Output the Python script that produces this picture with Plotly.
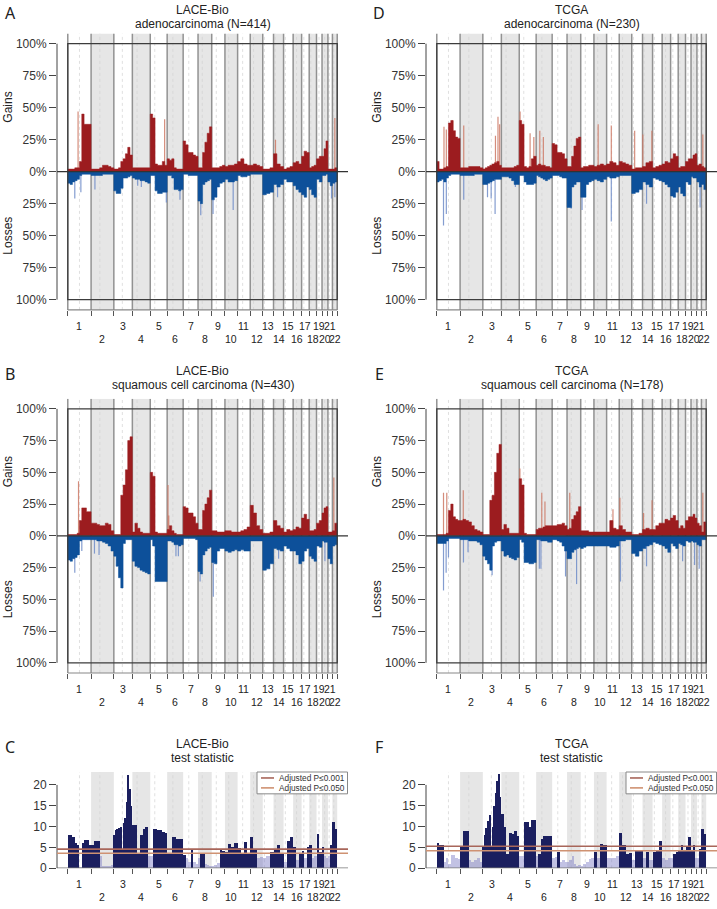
import plotly.graph_objects as go

W, H = 717, 909

CHROM_LEN = [249.3, 243.2, 198.0, 191.2, 180.9, 171.1, 159.1, 146.4, 141.2, 135.5,
             135.0, 133.9, 115.2, 107.3, 102.5, 90.4, 81.2, 78.1, 59.1, 63.0, 48.1, 51.3]
CENTROMERE = [125.0, 93.3, 91.0, 50.4, 48.4, 61.0, 59.9, 45.6, 49.0, 40.2,
              53.7, 35.8, 17.9, 17.6, 19.0, 36.6, 24.0, 17.2, 26.5, 27.5, 13.2, 14.7]

# --- LACE-Bio adenocarcinoma (%), one list per chromosome, equal-width segments
A_GAIN = [[2, 2, 2, 3, 3, 8, 45, 37, 37, 37], [2, 2, 2, 3, 5, 5, 4, 3], [2, 2, 3, 8, 10, 14, 19, 13],
          [3, 3, 3, 3, 3, 3, 3], [45, 42, 6, 5, 5, 8, 5], [10, 9, 10, 3, 2, 2, 2], [24, 21, 15, 15, 13, 12],
          [3, 3, 15, 23, 30, 35], [3, 3, 3, 4, 5], [4, 5, 5, 6], [8, 10, 6, 5], [5, 6, 5, 4], [2, 2, 3],
          [14, 6, 4], [2, 3, 4], [7, 8, 6], [12, 16, 15], [3, 4, 5], [10, 12], [12, 18, 24], [2, 2], [2, 3]]
A_LOSS = [[9, 10, 8, 7, 6, 3, 2, 2, 2, 2], [3, 3, 3, 3, 2, 2, 2, 2], [15, 17, 17, 13, 5, 5, 4, 3],
          [5, 6, 6, 7, 7, 8, 9], [3, 3, 15, 17, 17, 16, 16], [3, 3, 5, 14, 14, 15, 14], [2, 2, 3, 3, 3, 3],
          [23, 25, 10, 8, 7, 6], [22, 20, 12, 9, 8], [6, 8, 8, 7], [3, 4, 4, 3], [2, 2, 2, 2], [18, 17, 16],
          [10, 12, 10], [6, 8, 8], [11, 14, 16], [18, 20, 12], [14, 18, 20], [6, 8], [3, 3, 2], [8, 11], [9, 8]]
A_GAIN_SPIKES = [(1, 110, 47), (5, 154, 41), (14, 21, 25), (22, 26, 42)]
A_LOSS_SPIKES = [(1, 75, 21), (1, 140, 16), (2, 41, 14), (4, 57, 11), (4, 96, 12), (5, 172, 24),
                 (6, 137, 22), (8, 29, 34), (9, 14, 33), (10, 88, 30), (14, 43, 20), (21, 38, 21), (22, 26, 20)]

# --- TCGA adenocarcinoma
D_GAIN = [[8, 2, 2, 3, 4, 38, 40, 32, 27, 26], [3, 3, 3, 4, 4, 4, 4, 3], [2, 3, 4, 5, 6, 7, 8, 5],
          [3, 3, 3, 3, 3, 4, 5], [40, 37, 4, 3, 4, 10, 12], [5, 6, 5, 5, 4, 4, 3], [22, 21, 15, 15, 14, 10],
          [4, 4, 12, 20, 26, 27], [3, 4, 4, 5, 5], [4, 5, 6, 5], [6, 8, 7, 5], [8, 7, 6, 5], [2, 3, 3],
          [4, 7, 8], [3, 4, 5], [6, 8, 7], [10, 14, 12], [3, 4, 4], [8, 10], [10, 13, 14], [5, 6], [4, 3]]
D_LOSS = [[8, 7, 6, 8, 5, 3, 2, 2, 2, 2], [3, 3, 3, 3, 3, 2, 2, 2], [10, 10, 9, 8, 7, 6, 6, 6],
          [4, 4, 4, 5, 7, 10, 10], [3, 3, 8, 10, 10, 10, 9], [3, 4, 5, 6, 7, 6, 5], [3, 3, 3, 4, 5, 5],
          [28, 28, 12, 10, 8, 8], [20, 20, 10, 8, 7], [6, 7, 8, 6], [4, 5, 5, 4], [3, 3, 3, 3], [17, 16, 14],
          [8, 10, 12], [5, 6, 7], [8, 10, 12], [19, 20, 16], [12, 17, 19], [8, 10], [4, 5, 5], [8, 12], [10, 14]]
D_GAIN_SPIKES = [(1, 77, 35), (1, 102, 33), (1, 172, 40), (2, 39, 36), (3, 135, 28), (3, 162, 43),
                 (3, 180, 37), (5, 9, 47), (5, 116, 30), (5, 156, 27), (6, 39, 32), (6, 77, 27),
                 (10, 45, 37), (11, 50, 36), (13, 31, 32), (14, 3, 29), (14, 100, 32), (22, 15, 29)]
D_LOSS_SPIKES = [(1, 72, 42), (1, 102, 33), (2, 39, 22), (3, 50, 20), (3, 89, 21), (3, 131, 33),
                 (4, 150, 12), (8, 44, 29), (9, 14, 30), (11, 50, 39), (14, 43, 25), (21, 34, 28)]

# --- LACE-Bio squamous cell carcinoma
B_GAIN = [[1, 1, 1, 1, 2, 12, 22, 22, 19, 19], [10, 10, 9, 8, 8, 10, 9, 4], [1, 1, 1, 32, 40, 52, 75, 78],
          [3, 10, 6, 3, 2, 2, 2], [50, 47, 3, 2, 2, 2, 2], [5, 8, 4, 2, 1, 1, 1], [23, 22, 18, 18, 15, 10],
          [5, 5, 20, 25, 30, 36], [4, 4, 3, 3, 3], [4, 4, 3, 3], [3, 4, 5, 7], [24, 18, 8, 5], [2, 2, 3],
          [12, 8, 6], [3, 5, 4], [5, 7, 6], [14, 17, 13], [4, 4, 5], [10, 12], [18, 22, 23], [3, 3], [4, 10]]
B_LOSS = [[19, 20, 18, 17, 15, 4, 3, 3, 3, 3], [3, 3, 4, 4, 5, 6, 8, 12], [16, 24, 33, 41, 6, 3, 3, 3],
          [20, 24, 25, 27, 28, 29, 30], [3, 8, 36, 36, 36, 36, 36], [4, 4, 5, 7, 7, 8, 7], [2, 2, 2, 2, 2, 3],
          [28, 30, 15, 12, 10, 9], [21, 22, 12, 10, 10], [12, 13, 12, 11], [12, 11, 12, 12], [4, 4, 4, 4],
          [27, 26, 22], [10, 11, 12], [8, 10, 12], [12, 15, 22], [20, 12, 10], [16, 18, 20], [8, 9],
          [4, 5, 5], [18, 22], [8, 7]]
B_GAIN_SPIKES = [(1, 115, 43), (6, 9, 40), (6, 17, 16), (22, 15, 46)]
B_LOSS_SPIKES = [(1, 75, 29), (1, 150, 12), (2, 36, 14), (2, 85, 15), (6, 94, 16), (6, 120, 16),
                 (8, 22, 36), (9, 17, 48), (14, 54, 18), (20, 31, 20)]

# --- TCGA squamous cell carcinoma
E_GAIN = [[1, 1, 1, 1, 2, 20, 25, 15, 13, 12], [12, 13, 12, 11, 8, 5, 4, 3], [1, 1, 1, 28, 32, 50, 65, 72],
          [5, 9, 6, 2, 2, 2, 2], [45, 40, 2, 1, 1, 1, 1], [5, 6, 6, 7, 8, 8, 8], [8, 8, 9, 9, 10, 8],
          [5, 6, 13, 16, 19, 23], [4, 4, 4, 3, 3], [3, 3, 3, 3], [3, 12, 6, 5], [8, 5, 3, 3], [1, 1, 2],
          [5, 6, 5], [5, 8, 10], [10, 13, 12], [14, 16, 12], [6, 8, 6], [12, 15], [15, 17, 14], [10, 8], [3, 11]]
E_LOSS = [[6, 6, 6, 6, 4, 2, 2, 2, 2, 2], [3, 3, 3, 4, 4, 4, 5, 7], [16, 19, 22, 27, 8, 5, 4, 4],
          [12, 16, 15, 17, 18, 19, 17], [3, 5, 21, 21, 22, 22, 21], [3, 3, 4, 4, 4, 5, 5], [3, 3, 4, 5, 8, 12],
          [18, 18, 13, 11, 10, 9], [10, 9, 8, 8, 8], [8, 8, 8, 8], [8, 9, 9, 8], [4, 4, 3, 3], [14, 16, 12],
          [10, 8, 7], [5, 6, 7], [8, 10, 13], [6, 8, 10], [6, 7, 8], [4, 5], [4, 5, 5], [7, 8], [3, 3]]
E_GAIN_SPIKES = [(1, 72, 34), (1, 107, 34), (2, 34, 36), (5, 7, 53), (6, 60, 34), (6, 94, 27),
                 (8, 29, 34), (11, 68, 21), (12, 7, 30), (14, 11, 18), (14, 102, 28), (22, 15, 34)]
E_LOSS_SPIKES = [(1, 72, 43), (1, 100, 29), (1, 125, 17), (2, 36, 21), (2, 85, 13), (3, 99, 31),
                 (6, 34, 26), (6, 51, 26), (7, 143, 32), (8, 102, 38), (12, 13, 36), (14, 43, 24),
                 (18, 47, 20), (20, 38, 23), (21, 24, 26)]

# --- test statistics
C_STAT = [[7.9, 7.9, 7.5, 6.0, 5.5, 0.4, 6.0, 6.8, 6.8, 5.5], [5.5, 6.6, 6.5, 3.0, 0.5, 0.5, 0.5, 0.8],
          [8.0, 9.2, 9.5, 9.6, 10.0, 4.5, 10.8, 12.0, 16.0, 22.5, 19.0, 15.0],
          [10.5, 10.5, 3.5, 8.0, 9.5, 9.8, 3.0], [3.0, 9.5, 9.5, 9.3, 9.2, 8.7, 8.5],
          [3.5, 3.5, 7.5, 7.5, 7.0, 7.0, 7.0], [3.3, 2.5, 1.5, 4.4, 1.5, 1.0], [2.5, 3.6, 3.6, 1.0, 0.8, 0.6],
          [0.5, 0.8, 1.2, 4.3, 4.2], [4.0, 5.8, 5.2, 6.0], [4.8, 3.5, 6.2, 3.5], [7.5, 4.5, 2.5, 2.8],
          [2.5, 3.0, 3.8], [4.5, 5.5, 3.7], [1.5, 6.5, 7.5], [5.0, 2.0, 3.6], [4.2, 2.5, 5.2],
          [5.5, 2.5, 3.0], [8.3, 4.0], [5.0, 3.0, 2.5], [3.0, 5.5], [11.0, 9.5]]
F_STAT = [[6.0, 5.6, 5.5, 1.5, 2.5, 1.0, 3.3, 3.2, 2.5, 2.2], [5.0, 8.9, 8.9, 2.0, 1.5, 2.0, 2.5, 1.5],
          [5.2, 8.0, 9.6, 11.4, 12.8, 5.0, 10.0, 15.0, 18.0, 21.0, 22.7, 17.0],
          [13.0, 10.0, 3.5, 8.5, 8.2, 9.0, 7.8], [3.0, 3.0, 11.0, 11.2, 10.0, 11.5, 11.5],
          [3.0, 3.5, 7.0, 7.8, 7.8, 7.8, 7.8], [2.5, 2.8, 3.9, 1.5, 2.0, 1.5], [1.5, 2.0, 3.0, 1.0, 0.5, 0.8],
          [0.5, 1.0, 1.5, 2.2, 2.5], [3.9, 2.5, 5.9, 5.5], [2.5, 2.5, 2.5, 3.0], [8.5, 5.5, 3.5, 3.6],
          [2.0, 4.3, 4.5], [2.5, 3.9, 2.0], [4.0, 4.3, 6.5], [2.5, 2.0, 2.5], [2.5, 3.5, 3.9],
          [4.3, 5.5, 4.5], [5.0, 7.5], [4.5, 5.5, 2.5], [2.5, 4.7], [9.4, 8.2]]
C_THRESH = [4.6, 3.6]   # adjusted P<=0.001, P<=0.050
F_THRESH = [5.3, 4.2]
C_SIG = 3.2
F_SIG = 3.4

STARTS = [sum(CHROM_LEN[:i]) for i in range(22)]
L = sum(CHROM_LEN)

RED, BLUE = "#9c1c1f", "#0d509a"
RED_SPK, BLUE_SPK = "rgba(205,120,100,0.85)", "rgba(110,140,200,0.85)"
NAVY, LAV = "#1b1f5f", "rgba(120,120,195,0.45)"
BAND, CHRLINE = "#e6e6e6", "#929292"
FONT = "Liberation Sans, Arial, sans-serif"

fig = go.Figure()
shapes, annots = [], []


def seg_xy(profile, sign=1):
    xs, ys = [0], [0]
    for i, vals in enumerate(profile):
        w = CHROM_LEN[i] / len(vals)
        for j, v in enumerate(vals):
            xs += [STARTS[i] + j * w, STARTS[i] + (j + 1) * w]
            ys += [sign * v, sign * v]
    xs.append(L)
    ys.append(0)
    return xs, ys


def spike_xy(spikes, sign=1):
    xs, ys = [], []
    for c, pos, v in spikes:
        x = STARTS[c - 1] + pos
        xs += [x, x, None]
        ys += [0, sign * v, None]
    return xs, ys


def refs(n):
    s = "" if n == 1 else str(n)
    return "xaxis" + s, "yaxis" + s, "x" + s, "y" + s


def px_x(v):
    return v / W


def px_y(v):
    return 1 - v / H


def common(n, cols, rows, ylo, yhi, letter, title, sub, bottom):
    xa, ya, xr, yr = refs(n)
    fig.update_layout(**{
        xa: dict(domain=[px_x(cols[0]), px_x(cols[1])], range=[-0.04 * L, 1.04 * L],
                 tickvals=STARTS + [L], ticks="outside", ticklen=5, tickcolor="#555",
                 showticklabels=False, showgrid=False, zeroline=False, showline=False,
                 anchor=yr, fixedrange=True),
    })
    # chromosome bands + centromeres
    for i in range(22):
        if i % 2 == 1:
            shapes.append(dict(type="rect", xref=xr, yref=yr, x0=STARTS[i], x1=STARTS[i] + CHROM_LEN[i],
                               y0=ylo, y1=yhi, fillcolor=BAND, line=dict(width=0), layer="below"))
        cx = STARTS[i] + CENTROMERE[i]
        shapes.append(dict(type="line", xref=xr, yref=yr, x0=cx, x1=cx, y0=ylo, y1=yhi,
                           line=dict(color="#d2d2d2", width=0.7, dash="dot"), layer="below"))
    # x labels, staggered
    for i in range(22):
        off = 16 if i % 2 == 0 else 29
        annots.append(dict(xref=xr, yref="paper", x=STARTS[i] + CHROM_LEN[i] / 2, y=px_y(bottom + off),
                           text=str(i + 1), showarrow=False, font=dict(size=10.5, color="#222"),
                           xanchor="center", yanchor="middle"))
    cx = px_x((cols[0] + cols[1]) / 2)
    annots.append(dict(xref="paper", yref="paper", x=cx, y=px_y(title), text=sub[0], showarrow=False,
                       font=dict(size=12, color="#222"), xanchor="center", yanchor="middle"))
    annots.append(dict(xref="paper", yref="paper", x=cx, y=px_y(title + 14), text=sub[1], showarrow=False,
                       font=dict(size=12, color="#222"), xanchor="center", yanchor="middle"))
    annots.append(dict(xref="paper", yref="paper", x=px_x(cols[0] - 47), y=px_y(title + 3), text=letter,
                       showarrow=False, font=dict(size=16, color="#222", family="Noto Sans"),
                       xanchor="center", yanchor="middle"))


def profile_panel(n, cols, rows, gains, losses, gsp, lsp, letter, title, sub):
    xa, ya, xr, yr = refs(n)
    common(n, cols, rows, -108, 108, letter, title, sub, rows[1])
    fig.update_layout(**{
        ya: dict(domain=[px_y(rows[1]), px_y(rows[0])], range=[-108, 108],
                 tickvals=[100, 75, 50, 25, 0, -25, -50, -75, -100],
                 ticktext=["100%", "75%", "50%", "25%", "0%", "25%", "50%", "75%", "100%"],
                 ticks="outside", ticklen=7, tickcolor="#444", tickfont=dict(size=12, color="#333"),
                 showgrid=False, zeroline=False, showline=False, anchor=xr, fixedrange=True),
    })
    for i in range(23):
        x = STARTS[i] if i < 22 else L
        shapes.append(dict(type="line", xref=xr, yref=yr, x0=x, x1=x, y0=-108, y1=108,
                           line=dict(color=CHRLINE, width=1.5), layer="below"))
    x, y = spike_xy(gsp, 1)
    fig.add_trace(go.Scatter(x=x, y=y, mode="lines", line=dict(color=RED_SPK, width=1.2),
                             xaxis=xr, yaxis=yr, hoverinfo="skip"))
    x, y = spike_xy(lsp, -1)
    fig.add_trace(go.Scatter(x=x, y=y, mode="lines", line=dict(color=BLUE_SPK, width=1.2),
                             xaxis=xr, yaxis=yr, hoverinfo="skip"))
    x, y = seg_xy(gains, 1)
    fig.add_trace(go.Scatter(x=x, y=y, mode="lines", line=dict(color=RED, width=0.5), fill="tozeroy",
                             fillcolor=RED, xaxis=xr, yaxis=yr, hoverinfo="skip"))
    x, y = seg_xy(losses, -1)
    fig.add_trace(go.Scatter(x=x, y=y, mode="lines", line=dict(color=BLUE, width=0.5), fill="tozeroy",
                             fillcolor=BLUE, xaxis=xr, yaxis=yr, hoverinfo="skip"))
    shapes.append(dict(type="rect", xref=xr, yref=yr, x0=0, x1=L, y0=-100, y1=100,
                       line=dict(color="#3c3c3c", width=1.3), layer="above"))
    shapes.append(dict(type="line", xref=xr + " domain", yref=yr, x0=0, x1=1, y0=0, y1=0,
                       line=dict(color="#333", width=1.4), layer="above"))
    shapes.append(dict(type="line", xref=xr, yref=yr + " domain", x0=0, x1=L, y0=0, y1=0,
                       line=dict(color="#888", width=1.2), layer="above"))
    shapes.append(dict(type="line", xref=xr + " domain", yref=yr, x0=0, x1=0, y0=-100, y1=100,
                       line=dict(color="#444", width=1), layer="above"))
    ylab = px_x(cols[0] - 49)
    for txt, v in (("Gains", 50), ("Losses", -50)):
        annots.append(dict(xref="paper", yref=yr, x=ylab, y=v, text=txt, textangle=-90, showarrow=False,
                           font=dict(size=12, color="#222"), xanchor="center", yanchor="middle"))


def stat_panel(n, cols, rows, stats, sig, thresh, letter, title, sub):
    xa, ya, xr, yr = refs(n)
    top = 23.1
    common(n, cols, rows, 0, top, letter, title, sub, rows[1])
    fig.update_layout(**{
        ya: dict(domain=[px_y(rows[1]), px_y(rows[0])], range=[0, top], tickvals=[0, 5, 10, 15, 20],
                 ticks="outside", ticklen=7, tickcolor="#444", tickfont=dict(size=12, color="#333"),
                 showgrid=False, zeroline=False, showline=False, anchor=xr, fixedrange=True),
    })
    xs, ws, ys, cs = [], [], [], []
    for i, vals in enumerate(stats):
        w = CHROM_LEN[i] / len(vals)
        for j, v in enumerate(vals):
            xs.append(STARTS[i] + (j + 0.5) * w)
            ws.append(w)
            ys.append(v)
            cs.append(NAVY if v >= sig else LAV)
    fig.add_trace(go.Bar(x=xs, y=ys, width=ws, marker=dict(color=cs, line=dict(width=0)),
                         xaxis=xr, yaxis=yr, hoverinfo="skip"))
    shapes.append(dict(type="line", xref=xr + " domain", yref=yr, x0=0, x1=1, y0=0, y1=0,
                       line=dict(color="#777", width=1.4), layer="above"))
    shapes.append(dict(type="line", xref=xr + " domain", yref=yr, x0=0, x1=0, y0=0, y1=20,
                       line=dict(color="#444", width=1), layer="above"))
    tcol = ["#a8665a", "#cf9272"]
    for v, c in zip(thresh, tcol):
        shapes.append(dict(type="line", xref=xr + " domain", yref=yr, x0=0, x1=1, y0=v, y1=v,
                           line=dict(color=c, width=1.6), layer="above"))
    # legend box
    r = cols[1]
    shapes.append(dict(type="rect", xref="paper", yref="paper", x0=px_x(r - 91), x1=px_x(r - 0.5),
                       y0=px_y(rows[0] + 22), y1=px_y(rows[0]), fillcolor="white",
                       line=dict(color="#888", width=1), layer="above"))
    for k, (c, txt) in enumerate(zip(tcol, ["Adjusted P≤0.001", "Adjusted P≤0.050"])):
        yy = px_y(rows[0] + 6 + 10 * k)
        shapes.append(dict(type="line", xref="paper", yref="paper", x0=px_x(r - 87), x1=px_x(r - 74),
                           y0=yy, y1=yy, line=dict(color=c, width=1.6), layer="above"))
        annots.append(dict(xref="paper", yref="paper", x=px_x(r - 71), y=yy, text=txt, showarrow=False,
                           font=dict(size=8.3, color="#333"), xanchor="left", yanchor="middle"))


LEFT, RIGHT = (57, 348), (426, 717)
ROW1, ROW2, ROW3 = (33.7, 312.3), (401.8, 678.2), (778, 875)

profile_panel(1, LEFT, ROW1, A_GAIN, A_LOSS, A_GAIN_SPIKES, A_LOSS_SPIKES, "A", 10,
              ("LACE-Bio", "adenocarcinoma (N=414)"))
profile_panel(2, RIGHT, ROW1, D_GAIN, D_LOSS, D_GAIN_SPIKES, D_LOSS_SPIKES, "D", 10,
              ("TCGA", "adenocarcinoma (N=230)"))
profile_panel(3, LEFT, ROW2, B_GAIN, B_LOSS, B_GAIN_SPIKES, B_LOSS_SPIKES, "B", 374,
              ("LACE-Bio", "squamous cell carcinoma (N=430)"))
profile_panel(4, RIGHT, ROW2, E_GAIN, E_LOSS, E_GAIN_SPIKES, E_LOSS_SPIKES, "E", 374,
              ("TCGA", "squamous cell carcinoma (N=178)"))
stat_panel(5, LEFT, ROW3, C_STAT, C_SIG, C_THRESH, "C", 750, ("LACE-Bio", "test statistic"))
stat_panel(6, RIGHT, ROW3, F_STAT, F_SIG, F_THRESH, "F", 750, ("TCGA", "test statistic"))

fig.update_layout(width=W, height=H, margin=dict(l=0, r=0, t=0, b=0), showlegend=False,
                  plot_bgcolor="white", paper_bgcolor="white", font=dict(family=FONT, color="#222"),
                  shapes=shapes, annotations=annots, bargap=0)

# the page body has a default 8px margin; drop it so the figure fills the window exactly
fig.write_html("out.html", config={"displayModeBar": False},
               post_script="document.body.style.margin='0';document.body.style.overflow='hidden';")
